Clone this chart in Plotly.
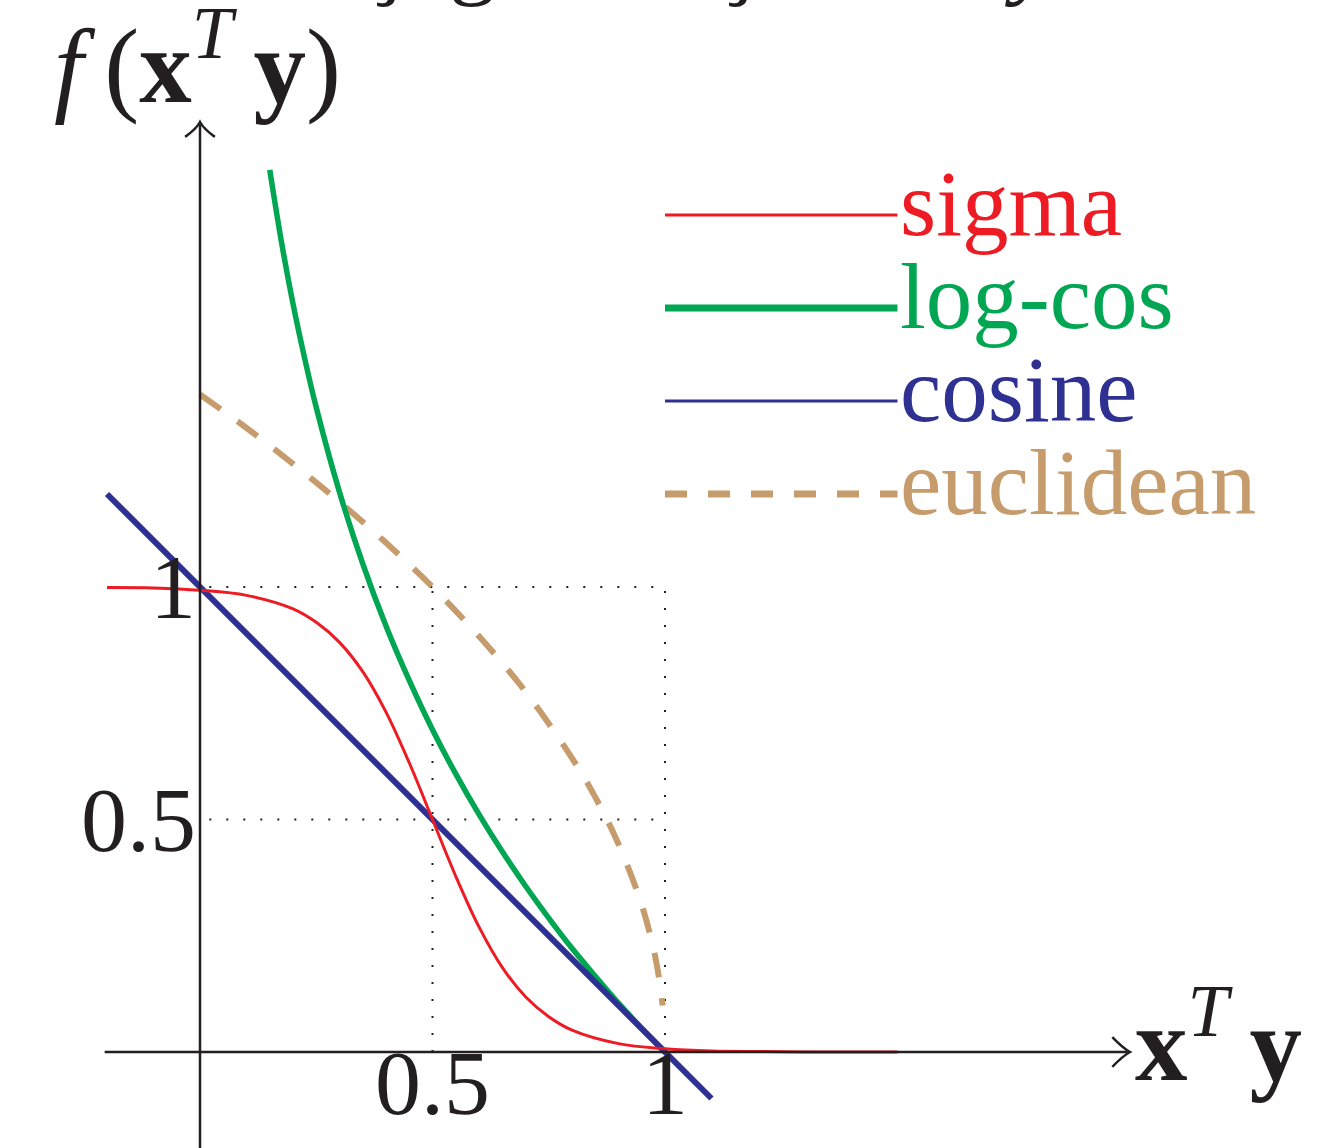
import plotly.graph_objects as go

# values (x = x^T y, y = f(x^T y))
sigma_x = [-0.2, -0.1, 0.0, 0.1, 0.2, 0.25, 0.3, 0.35, 0.4, 0.45, 0.5, 0.55, 0.6, 0.65, 0.7, 0.75, 0.8, 0.9, 1.0, 1.1, 1.2, 1.35, 1.5]
sigma_y = [0.999, 0.998, 0.993, 0.982, 0.953, 0.924, 0.881, 0.818, 0.731, 0.622, 0.5, 0.378, 0.269, 0.182, 0.119, 0.076, 0.047, 0.018, 0.007, 0.002, 0.001, 0.0, 0.0]

logcos_x = [0.15, 0.175, 0.2, 0.225, 0.25, 0.3, 0.35, 0.4, 0.45, 0.5, 0.55, 0.6, 0.65, 0.7, 0.75, 0.8, 0.85, 0.9, 0.95, 1.0]
logcos_y = [1.897, 1.743, 1.609, 1.492, 1.386, 1.204, 1.050, 0.916, 0.799, 0.693, 0.598, 0.511, 0.431, 0.357, 0.288, 0.223, 0.163, 0.105, 0.051, 0.0]

cosine_x = [-0.2, 1.1]
cosine_y = [1.2, -0.1]

euclid_x = [0.0, 0.1, 0.2, 0.3, 0.4, 0.5, 0.6, 0.7, 0.8, 0.85, 0.9, 0.95, 0.98, 0.995]
euclid_y = [1.414, 1.342, 1.265, 1.183, 1.095, 1.0, 0.894, 0.775, 0.632, 0.548, 0.447, 0.316, 0.2, 0.1]

x_ticks = [0.5, 1]
x_tick_text = ["0.5", "1"]
y_ticks = [0.5, 1]
y_tick_text = ["0.5", "1"]

legend_names = ["sigma", "log-cos", "cosine", "euclidean"]
legend_rows = [1.8, 1.6, 1.4, 1.2]

# fragments of a caption line that the top edge cuts off
title_x = [0.404, 0.587, 1.161, 1.785]
title_bits = ["ş", "g", "ş", "<i>y</i>"]

RED = "#ED1C24"
GREEN = "#00A651"
BLUE = "#2E3192"
TAN = "#C69C6D"
INK = "#231F20"
FONT = "Liberation Serif"

fig = go.Figure()

fig.add_trace(go.Scatter(x=euclid_x, y=euclid_y, mode="lines", line_shape="spline",
                         line=dict(color=TAN, width=6, dash="25px,21px"), name="euclidean"))
fig.add_trace(go.Scatter(x=logcos_x, y=logcos_y, mode="lines", line_shape="spline",
                         line=dict(color=GREEN, width=5.5), name="log-cos"))
fig.add_trace(go.Scatter(x=cosine_x, y=cosine_y, mode="lines",
                         line=dict(color=BLUE, width=6), name="cosine"))
fig.add_trace(go.Scatter(x=sigma_x, y=sigma_y, mode="lines", line_shape="spline",
                         line=dict(color=RED, width=3), name="sigma"))

shapes = []
# dotted guides
dot = dict(color=INK, width=2, dash="2px,15px")
for v in y_ticks:
    shapes.append(dict(type="line", x0=0.02, x1=1, y0=v, y1=v, line=dot, layer="below"))
for v in x_ticks:
    shapes.append(dict(type="line", x0=v, x1=v, y0=0, y1=1, line=dot, layer="below"))

# axes with open arrow heads
axis = dict(color=INK, width=2.5)
shapes.append(dict(type="line", x0=-0.205, x1=1.995, y0=0, y1=0, line=axis))
shapes.append(dict(type="line", x0=0, x1=0, y0=-0.21, y1=1.995, line=axis))
shapes.append(dict(type="path", line=axis,
                   path="M 1.962,0.032 Q 1.985,0.008 2.0,0 Q 1.985,-0.008 1.962,-0.032"))
shapes.append(dict(type="path", line=axis,
                   path="M -0.032,1.968 Q -0.008,1.985 0,2.0 Q 0.008,1.985 0.032,1.968"))

# legend samples
legend_styles = [dict(color=RED, width=3), dict(color=GREEN, width=7),
                 dict(color=BLUE, width=3), dict(color=TAN, width=7, dash="22px,21px")]
for ry, st in zip(legend_rows, legend_styles):
    shapes.append(dict(type="line", x0=1.0, x1=1.5, y0=ry, y1=ry, line=st))

annotations = []
for name, ry, st in zip(legend_names, legend_rows, legend_styles):
    annotations.append(dict(x=1.5, y=ry + 0.025, text=name, showarrow=False, xanchor="left",
                            yanchor="middle", font=dict(family=FONT, size=93, color=st["color"])))

for v, t in zip(x_ticks, x_tick_text):
    annotations.append(dict(x=v, y=-0.067, text=t, showarrow=False, xanchor="center",
                            yanchor="middle", font=dict(family=FONT, size=92, color=INK)))
for v, t in zip(y_ticks, y_tick_text):
    annotations.append(dict(x=-0.004, y=v, text=t, showarrow=False, xanchor="right",
                            yanchor="middle", font=dict(family=FONT, size=92, color=INK)))

annotations.append(dict(x=-0.006, y=2.136, showarrow=False, xanchor="center", yanchor="middle",
                        text="<i>f</i>&#8201;(<b>x</b><sup><i>T</i></sup>&#8201;<b>y</b>)",
                        font=dict(family=FONT, size=105, color=INK)))
annotations.append(dict(x=2.006, y=0.032, showarrow=False, xanchor="left", yanchor="middle",
                        text="<b>x</b><sup><i>T</i></sup>&#8201;<b>y</b>",
                        font=dict(family=FONT, size=105, color=INK)))

for tx, t in zip(title_x, title_bits):
    annotations.append(dict(x=tx, xref="x", y=1 - 10 / 1148, yref="paper", text=t,
                            showarrow=False, xanchor="center", yanchor="bottom",
                            font=dict(family=FONT, size=95, color=INK)))

fig.update_layout(
    width=1343, height=1148,
    margin=dict(l=0, r=0, t=0, b=0),
    paper_bgcolor="white", plot_bgcolor="white",
    showlegend=False,
    shapes=shapes, annotations=annotations,
    xaxis=dict(range=[-200 / 465, 1143 / 465], visible=False, fixedrange=True),
    yaxis=dict(range=[-96 / 465, 1052 / 465], visible=False, fixedrange=True),
)

fig.write_html("out.html", config={"displayModeBar": False},
               post_script="document.body.style.margin='0';")
